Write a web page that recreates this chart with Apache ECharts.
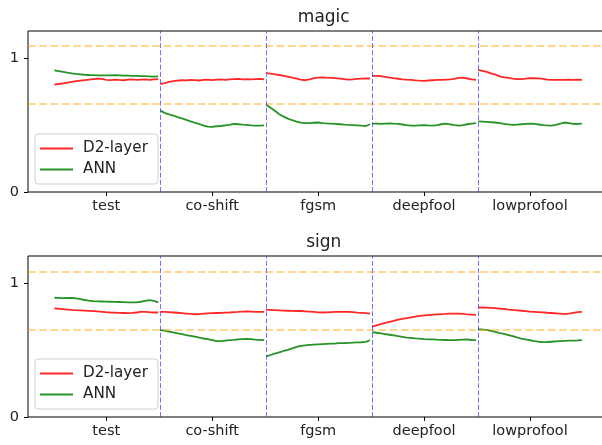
<!DOCTYPE html>
<html>
<head>
<meta charset="utf-8">
<script src="https://cdn.jsdelivr.net/npm/echarts@6/dist/echarts.min.js"></script>
<style>html,body{margin:0;padding:0;background:#fff}#c{width:602px;height:445px}</style>
</head>
<body>
<div id="c"></div>
<script>
const plotTitles = ['magic', 'sign'];
const segmentLabels = ['test', 'co-shift', 'fgsm', 'deepfool', 'lowprofool'];
const modelNames = ['D2-layer', 'ANN'];
const yTicks = [0, 1];
// horizontal reference levels per plot
const magicRefLines = [1.089, 0.660];
const signRefLines = [1.080, 0.648];

// magic: one array of 25 samples per segment
const magicD2 = [
  [0.800,0.805,0.810,0.815,0.820,0.826,0.830,0.834,0.838,0.842,0.845,0.843,0.836,0.834,0.838,0.835,0.833,0.837,0.839,0.835,0.838,0.840,0.836,0.839,0.842],
  [0.805,0.812,0.820,0.826,0.830,0.833,0.832,0.835,0.834,0.831,0.835,0.837,0.834,0.838,0.840,0.836,0.839,0.841,0.843,0.840,0.842,0.839,0.841,0.843,0.840],
  [0.886,0.882,0.877,0.872,0.866,0.860,0.852,0.845,0.838,0.833,0.840,0.848,0.853,0.855,0.852,0.850,0.848,0.845,0.842,0.838,0.840,0.843,0.845,0.846,0.846],
  [0.866,0.866,0.863,0.858,0.853,0.848,0.844,0.840,0.837,0.835,0.832,0.830,0.829,0.831,0.833,0.835,0.836,0.838,0.840,0.843,0.850,0.852,0.846,0.840,0.836],
  [0.911,0.903,0.895,0.884,0.875,0.862,0.855,0.850,0.845,0.841,0.842,0.845,0.848,0.849,0.847,0.843,0.838,0.836,0.835,0.836,0.835,0.837,0.836,0.837,0.836]
];
const magicANN = [
  [0.906,0.901,0.895,0.889,0.884,0.880,0.877,0.874,0.872,0.871,0.870,0.870,0.869,0.869,0.871,0.870,0.868,0.867,0.866,0.866,0.864,0.863,0.862,0.860,0.862],
  [0.607,0.590,0.578,0.570,0.558,0.548,0.538,0.527,0.516,0.507,0.495,0.487,0.486,0.490,0.492,0.496,0.500,0.508,0.505,0.502,0.500,0.497,0.495,0.494,0.496],
  [0.650,0.628,0.605,0.580,0.562,0.547,0.535,0.524,0.517,0.514,0.514,0.516,0.518,0.513,0.511,0.510,0.508,0.505,0.502,0.500,0.499,0.497,0.494,0.492,0.505],
  [0.509,0.510,0.508,0.510,0.511,0.509,0.508,0.503,0.498,0.494,0.495,0.497,0.499,0.496,0.494,0.499,0.505,0.509,0.504,0.498,0.494,0.499,0.505,0.510,0.514],
  [0.526,0.524,0.522,0.520,0.518,0.513,0.508,0.504,0.501,0.502,0.505,0.508,0.510,0.507,0.503,0.499,0.496,0.494,0.500,0.510,0.518,0.514,0.508,0.507,0.510]
];
// sign
const signD2 = [
  [0.809,0.807,0.804,0.801,0.798,0.796,0.795,0.793,0.791,0.789,0.787,0.784,0.781,0.779,0.778,0.776,0.775,0.774,0.776,0.779,0.783,0.784,0.781,0.779,0.779],
  [0.784,0.783,0.781,0.779,0.777,0.774,0.771,0.768,0.766,0.767,0.770,0.772,0.774,0.775,0.776,0.778,0.779,0.781,0.783,0.786,0.788,0.786,0.784,0.783,0.784],
  [0.799,0.798,0.797,0.795,0.793,0.792,0.791,0.790,0.790,0.788,0.786,0.783,0.780,0.779,0.780,0.782,0.783,0.784,0.784,0.783,0.781,0.778,0.776,0.774,0.771],
  [0.673,0.683,0.692,0.701,0.709,0.717,0.725,0.731,0.737,0.743,0.748,0.753,0.757,0.760,0.763,0.765,0.767,0.768,0.770,0.771,0.770,0.768,0.765,0.763,0.761],
  [0.817,0.816,0.815,0.813,0.811,0.808,0.805,0.801,0.798,0.795,0.792,0.789,0.786,0.784,0.782,0.780,0.777,0.775,0.773,0.770,0.767,0.770,0.776,0.781,0.784]
];
const signANN = [
  [0.889,0.888,0.886,0.887,0.887,0.884,0.878,0.872,0.867,0.864,0.862,0.861,0.860,0.859,0.858,0.857,0.856,0.855,0.854,0.855,0.859,0.865,0.871,0.866,0.854],
  [0.648,0.643,0.637,0.630,0.624,0.618,0.611,0.605,0.599,0.592,0.585,0.580,0.573,0.566,0.565,0.569,0.573,0.575,0.578,0.581,0.583,0.580,0.577,0.575,0.573],
  [0.452,0.462,0.472,0.482,0.492,0.501,0.512,0.522,0.530,0.534,0.537,0.539,0.541,0.543,0.545,0.547,0.548,0.550,0.551,0.553,0.554,0.556,0.557,0.560,0.572],
  [0.633,0.628,0.623,0.618,0.613,0.608,0.602,0.597,0.592,0.589,0.586,0.584,0.581,0.579,0.578,0.576,0.575,0.574,0.573,0.573,0.575,0.577,0.578,0.574,0.573],
  [0.653,0.652,0.649,0.642,0.634,0.626,0.619,0.611,0.602,0.593,0.585,0.578,0.572,0.566,0.561,0.558,0.559,0.561,0.563,0.565,0.567,0.569,0.570,0.571,0.573]
];

const SEG = 50;              // samples-index width of a segment
const plots = [
  {d2: magicD2, ann: magicANN, refs: magicRefLines},
  {d2: signD2, ann: signANN, refs: signRefLines}
];
const colors = {'D2-layer': 'rgba(255,0,0,0.85)', 'ANN': 'rgba(0,128,0,0.85)'};
const FONT = 'DejaVu Sans';
const tickPos = segmentLabels.map((_, s) => s * SEG + 24.5);
const xMin = -12.45, xMax = 5 * SEG - 1 + 12.45;
const gridTops = [31, 256];
const H = 161;

const grids = [], xAxes = [], yAxes = [], series = [], legends = [], titles = [];
plots.forEach((p, k) => {
  grids.push({left: 28, top: gridTops[k], width: 580.3, height: H, show: true,
    outerBoundsMode: 'none', containLabel: false,
    borderColor: '#000', borderWidth: 1, backgroundColor: 'transparent'});
  xAxes.push({type: 'value', gridIndex: k, min: xMin, max: xMax,
    axisLine: {show: false, onZero: false}, splitLine: {show: false},
    axisTick: {show: true, length: 4, lineStyle: {color: '#000'}, customValues: tickPos},
    axisLabel: {customValues: tickPos, margin: 7, color: '#222', fontFamily: FONT, fontSize: 14.5,
      formatter: v => { const i = tickPos.findIndex(t => Math.abs(t - v) < 1e-6); return i >= 0 ? segmentLabels[i] : ''; }}
  });
  yAxes.push({type: 'value', gridIndex: k, min: 0, max: 1.2,
    axisLine: {show: false, onZero: false}, splitLine: {show: false},
    axisTick: {show: true, length: 4, lineStyle: {color: '#000'}, customValues: yTicks},
    axisLabel: {customValues: yTicks, margin: 9, color: '#222', fontFamily: FONT, fontSize: 14.5}
  });
  [['D2-layer', p.d2], ['ANN', p.ann]].forEach(([name, segs], m) => {
    segs.forEach((vals, s) => {
      const ser = {type: 'line', name, xAxisIndex: k, yAxisIndex: k, symbol: 'none', silent: true,
        animation: false, lineStyle: {color: colors[name], width: 1.8}, itemStyle: {color: colors[name]},
        data: vals.map((v, i) => [s * SEG + i * (SEG - 1) / (vals.length - 1), v])};
      if (m === 0 && s === 0) {
        ser.markLine = {silent: true, symbol: 'none', animation: false, label: {show: false},
          data: [
            ...p.refs.map(y => ({yAxis: y, lineStyle: {color: 'rgba(255,165,0,0.45)', width: 2, type: [7.7, 3.6]}})),
            ...[1, 2, 3, 4].map(b => ({xAxis: b * SEG, lineStyle: {color: 'rgba(40,40,255,0.65)', width: 1, type: [5, 2.2]}}))
          ]};
      }
      series.push(ser);
    });
  });
  legends.push({orient: 'vertical', left: 35, top: gridTops[k] + 103, data: modelNames,
    icon: 'rect', itemWidth: 33, itemHeight: 2, itemGap: 6,
    padding: [7, 10, 7, 5], backgroundColor: 'rgba(255,255,255,0.85)', borderColor: '#d0d0d0',
    borderWidth: 1, borderRadius: 3, selectedMode: false,
    textStyle: {fontFamily: FONT, fontSize: 15.2, color: '#222', padding: [0, 0, 0, 5]}});
  titles.push({text: plotTitles[k], left: 318.75, textAlign: 'center', top: gridTops[k] - 27,
    textStyle: {fontFamily: FONT, fontSize: 17, fontWeight: 'normal', color: '#222'}});
});

const chart = echarts.init(document.getElementById('c'), null, {renderer: 'canvas'});
chart.setOption({animation: false, title: titles, grid: grids, xAxis: xAxes, yAxis: yAxes,
  legend: legends, series});
</script>
</body>
</html>
